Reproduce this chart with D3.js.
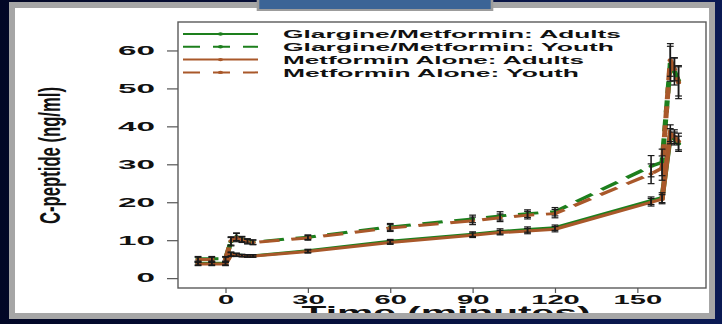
<!DOCTYPE html>
<html>
<head>
<meta charset="utf-8">
<script src="https://cdn.jsdelivr.net/npm/d3@7"></script>
<style>
  html, body { margin: 0; padding: 0; background: #030a2c; }
  svg { display: block; }
</style>
</head>
<body>
<svg id="chart" width="722" height="324"></svg>
<script>
// sampling times (minutes)
const times = [-10, -5, 0, 2, 4, 6, 8, 10, 30, 60, 90, 100, 110, 120, 155, 159, 162, 163.5, 165];

// mean C-peptide (ng/ml) per group
const glargineAdults = [3.9, 3.9, 3.9, 6.4, 6.2, 6.0, 5.9, 5.9, 7.2, 9.7, 11.6, 12.3, 12.8, 13.3, 20.4, 21.2, 37.4, 36.8, 35.4];
const glargineYouth = [5.1, 5.1, 5.1, 9.6, 10.9, 10.3, 9.8, 9.5, 10.8, 13.5, 15.6, 16.4, 17.0, 17.5, 29.5, 30.5, 56.5, 54.5, 52.0];
const metforminAdults = [3.7, 3.7, 3.7, 6.2, 6.1, 5.9, 5.8, 5.8, 7.0, 9.4, 11.3, 12.0, 12.4, 12.9, 20.0, 20.8, 38.2, 37.3, 36.0];
const metforminYouth = [4.9, 4.9, 4.9, 9.8, 10.7, 10.1, 9.6, 9.4, 10.6, 13.2, 15.1, 15.9, 16.6, 17.0, 27.5, 29.0, 57.5, 55.0, 51.5];

// standard errors
const glargineAdultsSE = [0.4, 0.4, 0.4, 0.5, 0.4, 0.3, 0.3, 0.3, 0.4, 0.5, 0.6, 0.7, 0.7, 0.7, 1.0, 1.3, 2.0, 1.7, 2.0];
const glargineYouthSE = [0.6, 0.6, 0.6, 1.1, 1.0, 0.7, 0.6, 0.6, 0.6, 0.9, 1.0, 1.1, 1.0, 1.1, 2.8, 3.5, 4.6, 3.6, 4.0];
const metforminAdultsSE = [0.4, 0.4, 0.4, 0.5, 0.4, 0.3, 0.3, 0.3, 0.4, 0.5, 0.6, 0.6, 0.7, 0.7, 1.0, 1.2, 2.2, 1.8, 2.2];
const metforminYouthSE = [0.6, 0.6, 0.6, 1.1, 1.1, 0.7, 0.6, 0.6, 0.6, 0.9, 1.0, 1.0, 1.0, 1.1, 2.6, 3.2, 4.3, 3.0, 4.2];

const seriesNames = ["Glargine/Metformin: Adults", "Glargine/Metformin: Youth", "Metformin Alone: Adults", "Metformin Alone: Youth"];
const xTicks = [0, 30, 60, 90, 120, 150];
const yTicks = [0, 10, 20, 30, 40, 50, 60];

const green = "#1d7f1d", brown = "#a9582a";
const series = [
    { name: seriesNames[0], values: glargineAdults, se: glargineAdultsSE, color: green, dashed: false, offset: 0 },
    { name: seriesNames[1], values: glargineYouth, se: glargineYouthSE, color: green, dashed: true, offset: 0 },
    { name: seriesNames[2], values: metforminAdults, se: metforminAdultsSE, color: brown, dashed: false, offset: 0 },
    { name: seriesNames[3], values: metforminYouth, se: metforminYouthSE, color: brown, dashed: true, offset: 2.5 },
];

const svg = d3.select("#chart");

// background + slide panel
const defs = svg.append("defs");
const grad = defs.append("linearGradient").attr("id", "bg").attr("x1", 0).attr("x2", 1);
grad.append("stop").attr("offset", 0).attr("stop-color", "#020726");
grad.append("stop").attr("offset", 1).attr("stop-color", "#0b1a54");
svg.append("rect").attr("width", 722).attr("height", 324).attr("fill", "url(#bg)");
svg.append("rect").attr("x", 15).attr("y", 8).attr("width", 694).attr("height", 305).attr("fill", "#fff");

// plot region
const x = d3.scaleLinear().domain([-17.3, 175]).range([178, 706]);
const y = d3.scaleLinear().domain([-2.6, 67.5]).range([288, 22]);

// the picture is stretched horizontally, so marks are drawn squeezed and scaled back
const sx = 1.7;
const xl = x.copy().range(x.range().map((r) => r / sx));

const font = "'Liberation Sans', Arial, sans-serif";

// y axis
const yAxis = svg.append("g")
    .attr("transform", `translate(${x.range()[0]},0)`)
    .call(d3.axisLeft(y).tickValues(yTicks).tickSize(11).tickSizeOuter(0).tickPadding(12));
yAxis.select(".domain").remove();
yAxis.selectAll(".tick line").attr("stroke", "#555").attr("stroke-width", 1.2);
yAxis.selectAll(".tick text")
    .attr("font-family", font).attr("font-weight", "bold").attr("font-size", 12).attr("fill", "#111")
    .attr("textLength", (d) => String(d).length * 18.5)
    .attr("lengthAdjust", "spacingAndGlyphs");

// x axis
const xAxis = svg.append("g")
    .attr("transform", `translate(0,${y.range()[0]})`)
    .call(d3.axisBottom(x).tickValues(xTicks).tickSize(5).tickSizeOuter(0).tickPadding(2));
xAxis.select(".domain").remove();
xAxis.selectAll(".tick line").attr("stroke", "#555").attr("stroke-width", 1.2);
xAxis.selectAll(".tick text")
    .attr("font-family", font).attr("font-weight", "bold").attr("font-size", 12).attr("fill", "#111")
    .attr("textLength", (d) => String(d).length * 16.2)
    .attr("lengthAdjust", "spacingAndGlyphs");

// box
svg.append("rect")
    .attr("x", x.range()[0]).attr("y", y.range()[1])
    .attr("width", x.range()[1] - x.range()[0]).attr("height", y.range()[0] - y.range()[1])
    .attr("fill", "none").attr("stroke", "#5a5a5a").attr("stroke-width", 1.4);

// data marks
const marks = svg.append("g").attr("transform", `scale(${sx},1)`);
const line = d3.line().x((d) => xl(d.t)).y((d) => y(d.v));

series.forEach((s) => {
    const pts = times.map((t, i) => ({ t: t, v: s.values[i], e: s.se[i] }));
    marks.append("path")
        .datum(pts)
        .attr("d", line)
        .attr("fill", "none")
        .attr("stroke", s.color)
        .attr("stroke-width", 3)
        .attr("stroke-dasharray", s.dashed ? "12,7" : null)
        .attr("stroke-dashoffset", s.offset);
    marks.selectAll(null)
        .data(pts)
        .enter()
        .append("circle")
        .attr("cx", (d) => xl(d.t))
        .attr("cy", (d) => y(d.v))
        .attr("r", 1.6)
        .attr("fill", s.color);
});

// error bars on top
series.forEach((s) => {
    const pts = times.map((t, i) => ({ t: t, v: s.values[i], e: s.se[i] }));
    const eb = marks.append("g").attr("stroke", "#1a1a1a").attr("stroke-width", 0.9);
    eb.selectAll(".bar")
        .data(pts)
        .enter()
        .append("line")
        .attr("x1", (d) => xl(d.t)).attr("x2", (d) => xl(d.t))
        .attr("y1", (d) => y(d.v - d.e)).attr("y2", (d) => y(d.v + d.e));
    [-1, 1].forEach((sgn) => {
        eb.selectAll(null)
            .data(pts)
            .enter()
            .append("line")
            .attr("stroke-width", 1.2)
            .attr("x1", (d) => xl(d.t) - 2).attr("x2", (d) => xl(d.t) + 2)
            .attr("y1", (d) => y(d.v + sgn * d.e)).attr("y2", (d) => y(d.v + sgn * d.e));
    });
});

// legend
const legendLengths = [338, 331, 301, 296];
const legend = svg.append("g");
series.forEach((s, i) => {
    const ly = 34 + i * 12.8;
    legend.append("line")
        .attr("x1", 183).attr("x2", 258).attr("y1", ly).attr("y2", ly)
        .attr("stroke", s.color).attr("stroke-width", 2)
        .attr("stroke-dasharray", s.dashed ? "17,13" : null);
    legend.append("ellipse")
        .attr("cx", 220.5).attr("cy", ly).attr("rx", 2.6).attr("ry", 1.7)
        .attr("fill", s.color);
    legend.append("text")
        .attr("x", 283).attr("y", ly + 4.2)
        .attr("font-family", font).attr("font-weight", "bold").attr("font-size", 11.5)
        .attr("fill", "#111")
        .attr("textLength", legendLengths[i])
        .attr("lengthAdjust", "spacingAndGlyphs")
        .text(s.name);
});

// axis titles (stretched like the rest of the picture)
svg.append("text")
    .attr("transform", "translate(60,155.5) rotate(-90) scale(1,2.3)")
    .attr("text-anchor", "middle")
    .attr("font-family", font).attr("font-weight", "bold").attr("font-size", 13).attr("fill", "#111")
    .attr("textLength", 137).attr("lengthAdjust", "spacingAndGlyphs")
    .text("C-peptide (ng/ml)");

svg.append("text")
    .attr("transform", "translate(446,318.5) scale(2.3,1)")
    .attr("text-anchor", "middle")
    .attr("font-family", font).attr("font-weight", "bold").attr("font-size", 17.5).attr("fill", "#111")
    .attr("textLength", 125.6).attr("lengthAdjust", "spacingAndGlyphs")
    .text("Time (minutes)");

// slide frame drawn over everything
svg.append("rect")
    .attr("x", 12).attr("y", 5).attr("width", 700).attr("height", 311)
    .attr("fill", "none").attr("stroke", "#a6a6a6").attr("stroke-width", 6);
svg.append("rect").attr("x", 0).attr("y", 0).attr("width", 722).attr("height", 2).attr("fill", "url(#bg)");
svg.append("rect").attr("x", 0).attr("y", 319).attr("width", 722).attr("height", 5).attr("fill", "url(#bg)");

// title tab at the top
svg.append("rect").attr("x", 256.7).attr("y", 0).attr("width", 236.6).attr("height", 11).attr("fill", "#9c9c9c");
svg.append("rect").attr("x", 259.3).attr("y", 0).attr("width", 231.4).attr("height", 9).attr("fill", "#3b6496");
</script>
</body>
</html>
